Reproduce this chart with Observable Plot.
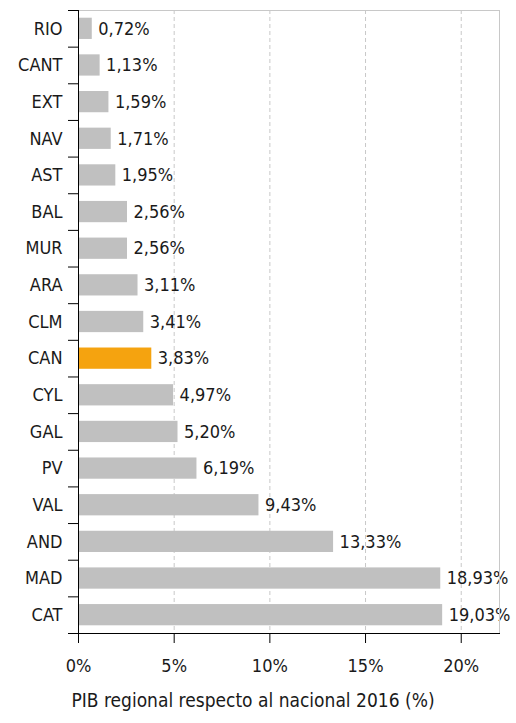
<!DOCTYPE html>
<html>
<head>
<meta charset="utf-8">
<script src="https://cdn.jsdelivr.net/npm/d3@7"></script>
<script src="https://cdn.jsdelivr.net/npm/@observablehq/plot@0.6"></script>
<style>
  html, body { margin: 0; padding: 0; background: #fff; }
</style>
</head>
<body>
<div id="chart"></div>
<script>
const regions = ["RIO","CANT","EXT","NAV","AST","BAL","MUR","ARA","CLM","CAN","CYL","GAL","PV","VAL","AND","MAD","CAT"];
const values = [0.72,1.13,1.59,1.71,1.95,2.56,2.56,3.11,3.41,3.83,4.97,5.20,6.19,9.43,13.33,18.93,19.03];
const highlight = "CAN";
const xTicks = [0, 5, 10, 15, 20];
const gridTicks = [5, 10, 15, 20];
const xLabel = "PIB regional respecto al nacional 2016 (%)";

const data = regions.map((r, i) => ({region: r, value: values[i]}));
const fmt = v => v.toFixed(2).replace(".", ",") + "%";

const W = 516, H = 723, mT = 10, mB = 90, mL = 78, mR = 17;
const step = (H - mT - mB) / regions.length;

const chart = Plot.plot({
  width: W, height: H,
  marginLeft: mL, marginRight: mR, marginTop: mT, marginBottom: mB,
  style: {fontFamily: "'DejaVu Sans Condensed', 'DejaVu Sans', sans-serif", fontSize: "18px", color: "#1a1a1a", background: "#fff"},
  x: {domain: [0, 22]},
  y: {domain: regions, paddingInner: 0.42, paddingOuter: 0.21, round: false},
  marks: [
    Plot.gridX(gridTicks, {stroke: "#c8c8c8", strokeOpacity: 1, strokeDasharray: "4,3"}),
    Plot.barX(data.filter(d => d.region !== highlight), {y: "region", x: "value", fill: "#c0c0c0"}),
    Plot.barX(data.filter(d => d.region === highlight), {y: "region", x: "value", fill: "#f5a30f"}),
    Plot.text(data, {y: "region", x: "value", text: d => fmt(d.value), textAnchor: "start", dx: 6, fill: "#1a1a1a"}),
    Plot.frame({stroke: "#c8c8c8"}),
    Plot.frame({anchor: "left", stroke: "#000"}),
    Plot.frame({anchor: "bottom", stroke: "#000", insetLeft: -10}),
    Plot.axisY({tickSize: 0, tickPadding: 16, label: null}),
    Plot.axisY({tickSize: 10, tickFormat: () => "", dy: -step / 2, label: null, stroke: "#000", strokeOpacity: 1}),
    Plot.axisX(xTicks, {tickSize: 10, tickPadding: 16, tickFormat: d => d + "%", label: null, stroke: "#000", strokeOpacity: 1}),
    Plot.text([xLabel], {frameAnchor: "bottom", dy: 73, dx: -36, fontSize: 19, fill: "#1a1a1a"})
  ]
});
document.getElementById("chart").appendChild(chart);
</script>
</body>
</html>
